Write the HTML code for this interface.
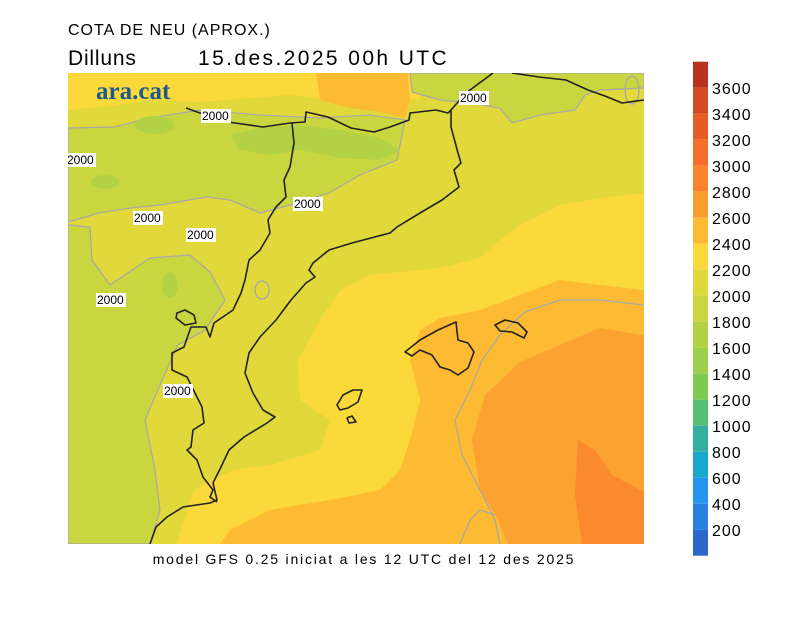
<!DOCTYPE html>
<html><head><meta charset="utf-8"><style>
body{margin:0;background:#fff;}
svg{display:block;font-family:"Liberation Sans",sans-serif;}
</style></head><body>
<svg width="800" height="617" viewBox="0 0 800 617" xmlns="http://www.w3.org/2000/svg">
<text x="68" y="35" font-size="16" fill="#000" letter-spacing="1">COTA DE NEU (APROX.)</text>
<text x="68" y="65" font-size="21" fill="#000" letter-spacing="0.8">Dilluns</text>
<text x="198" y="65" font-size="21" fill="#000" letter-spacing="2.4">15.des.2025 00h UTC</text>
<defs><clipPath id="m"><rect x="68" y="73" width="576" height="471"/></clipPath></defs>
<g clip-path="url(#m)">
<rect x="68" y="73" width="576" height="471" fill="#e1d83c"/>
<path d="M68,73 L420,73 L420,100 L380,96 L330,100 L290,95 L250,98 L200,102 L150,100 L110,106 L68,110 Z" fill="#fcd93a"/>
<path d="M316,73 L408,73 L410,100 L405,118 L380,112 L350,108 L320,100 Z" fill="#fdbb34"/>
<path d="M410,73 L412,92 L440,100 L470,103 L500,108 L512,123 L540,115 L575,110 L585,95 L600,90 L644,88 L644,73 Z" fill="#cad63f" stroke="#a8a8a8" stroke-width="1.2"/>
<path d="M644,193 L600,198 L560,205 L520,225 L500,240 L480,258 L440,268 L370,275 L340,290 L320,320 L298,360 L300,400 L330,420 L320,450 L270,465 L233,470 L194,490 L176,544 L644,544 Z" fill="#fcd93a"/>
<path d="M644,290 L600,285 L560,280 L520,295 L480,310 L440,318 L420,330 L410,360 L420,400 L410,440 L400,470 L380,490 L330,500 L270,510 L230,530 L220,544 L644,544 Z" fill="#fdbb34"/>
<path d="M644,335 L600,328 L560,345 L520,362 L485,395 L472,440 L480,490 L498,520 L508,544 L644,544 Z" fill="#fba230"/>
<path d="M578,440 L595,450 L612,475 L644,492 L644,544 L582,544 L575,495 Z" fill="#fb8a2d"/>
<path d="M68,128 L114,127 L150,118 L200,110 L260,115 L320,118 L370,115 L405,120 L400,145 L397,160 L360,175 L329,193 L290,205 L260,213 L230,200 L207,197 L160,205 L130,208 L99,213 L68,222 Z" fill="#cad63f" stroke="#a8a8a8" stroke-width="1.2"/>
<path d="M68,225 L90,227 L92,260 L110,285 L150,258 L190,255 L210,272 L225,300 L205,330 L178,345 L162,380 L145,420 L155,470 L160,510 L150,544 L68,544 Z" fill="#cad63f" stroke="#a8a8a8" stroke-width="1.2"/>
<ellipse cx="155" cy="125" rx="20" ry="9" fill="#b3d145"/>
<ellipse cx="105" cy="182" rx="14" ry="7" fill="#b3d145"/>
<ellipse cx="170" cy="285" rx="8" ry="13" fill="#b3d145"/>
<path d="M230,135 L260,128 L300,125 L340,130 L380,138 L400,150 L380,160 L340,158 L300,150 L270,155 L240,150 Z" fill="#b3d145"/>
<path d="M644,305 L600,300 L560,300 L525,312 L500,335 L482,360 L470,390 L455,420 L462,455 L480,490 L495,520 L500,544" fill="none" stroke="#a8a8a8" stroke-width="1.2"/>
<path d="M460,544 L470,520 L480,510 L495,515" fill="none" stroke="#a8a8a8" stroke-width="1.2"/>
<ellipse cx="262" cy="290" rx="7" ry="9" fill="none" stroke="#a8a8a8" stroke-width="1.2"/>
<ellipse cx="632" cy="90" rx="7" ry="14" fill="none" stroke="#a8a8a8" stroke-width="1.2"/>
<g fill="none" stroke="#222" stroke-width="1.6" stroke-linejoin="round">
<path d="M644,100 L622,103 L605,96 L588,90 L566,80 L539,77 L512,73"/>
<path d="M493,73 L466,93 L451,110 L451,127 L458,153 L461,163 L454,170 L459,187 L442,200 L420,213 L397,227 L390,233 L352,243 L329,250 L313,263 L309,270 L315,277 L306,283 L291,300 L276,320 L260,337 L249,353 L245,373 L253,393 L263,410 L275,417 L267,423 L244,437 L229,450 L221,467 L213,483 L217,500 L210,503 L183,507 L167,517 L156,527 L150,544"/>
<path d="M186,108 L200,113 L228,122 L263,127 L290,123 L305,122 L306,112 L328,117 L351,128 L374,132 L390,127 L409,120 L410,113 L436,110 L448,113 L451,110"/>
<path d="M292,123 L294,143 L290,167 L284,180 L286,197 L276,207 L268,220 L270,233 L260,250 L249,260 L245,280 L241,293 L233,310 L214,323 L210,337 L206,327 L191,327 L184,347 L172,353 L172,370 L187,377 L195,393 L202,407 L204,423 L193,430 L191,447 L187,450 L197,460 L203,477 L213,490 L210,497 L217,502"/>
<path d="M177,313 L185,310 L194,315 L196,323 L185,325 L176,318 Z"/>
<path d="M405,352 L420,340 L438,330 L456,322 L458,340 L468,343 L474,352 L468,368 L458,375 L450,370 L440,367 L432,355 L420,350 L412,356 Z"/>
<path d="M495,325 L505,320 L518,323 L527,332 L524,338 L512,332 L500,331 Z"/>
<path d="M337,405 L343,395 L353,390 L362,390 L358,402 L348,408 L340,410 Z"/>
<path d="M347,418 L352,416 L356,422 L349,423 Z"/>
</g>
<g font-size="12" fill="#000">
<rect x="201" y="109" width="30" height="14" fill="#fff"/><text x="202" y="120">2000</text>
<rect x="66" y="153" width="30" height="14" fill="#fff"/><text x="67" y="164">2000</text>
<rect x="293" y="197" width="30" height="14" fill="#fff"/><text x="294" y="208">2000</text>
<rect x="133" y="211" width="30" height="14" fill="#fff"/><text x="134" y="222">2000</text>
<rect x="186" y="228" width="30" height="14" fill="#fff"/><text x="187" y="239">2000</text>
<rect x="96" y="293" width="30" height="14" fill="#fff"/><text x="97" y="304">2000</text>
<rect x="163" y="384" width="30" height="14" fill="#fff"/><text x="164" y="395">2000</text>
<rect x="459" y="91" width="30" height="14" fill="#fff"/><text x="460" y="102">2000</text>
</g>
<text x="96" y="99" font-family="Liberation Serif,serif" font-weight="bold" font-size="25" fill="#1d5a8c">ara.cat</text>
</g>
<text x="364" y="564" font-size="14" text-anchor="middle" fill="#000" letter-spacing="1.8">model GFS 0.25 iniciat a les 12 UTC del 12 des 2025</text>
<g>
<rect x="693" y="61.7" width="15" height="26" fill="#b8321e"/>
<rect x="693" y="87.7" width="15" height="26" fill="#d24a24"/>
<rect x="693" y="113.7" width="15" height="26" fill="#e85b27"/>
<rect x="693" y="139.7" width="15" height="26" fill="#f56f2a"/>
<rect x="693" y="165.7" width="15" height="26" fill="#fb832b"/>
<rect x="693" y="191.7" width="15" height="26" fill="#fb9c30"/>
<rect x="693" y="217.7" width="15" height="26" fill="#fdbb34"/>
<rect x="693" y="243.7" width="15" height="26" fill="#fcd93a"/>
<rect x="693" y="269.7" width="15" height="26" fill="#e1d83c"/>
<rect x="693" y="295.7" width="15" height="26" fill="#cad63f"/>
<rect x="693" y="321.7" width="15" height="26" fill="#b3d145"/>
<rect x="693" y="347.7" width="15" height="26" fill="#9ccf4b"/>
<rect x="693" y="373.7" width="15" height="26" fill="#7ecb51"/>
<rect x="693" y="399.7" width="15" height="26" fill="#57c075"/>
<rect x="693" y="425.7" width="15" height="26" fill="#34ae9e"/>
<rect x="693" y="451.7" width="15" height="26" fill="#1aa7cd"/>
<rect x="693" y="477.7" width="15" height="26" fill="#2496f0"/>
<rect x="693" y="503.7" width="15" height="26" fill="#2880e0"/>
<rect x="693" y="529.7" width="15" height="26" fill="#2a66cc"/>
</g>
<g font-size="16" fill="#000" letter-spacing="1">
<text x="712" y="94">3600</text><text x="712" y="120">3400</text><text x="712" y="146">3200</text>
<text x="712" y="172">3000</text><text x="712" y="198">2800</text><text x="712" y="224">2600</text>
<text x="712" y="250">2400</text><text x="712" y="276">2200</text><text x="712" y="302">2000</text>
<text x="712" y="328">1800</text><text x="712" y="354">1600</text><text x="712" y="380">1400</text>
<text x="712" y="406">1200</text><text x="712" y="432">1000</text><text x="712" y="458">800</text>
<text x="712" y="484">600</text><text x="712" y="510">400</text><text x="712" y="536">200</text>
</g>
</svg>
</body></html>
